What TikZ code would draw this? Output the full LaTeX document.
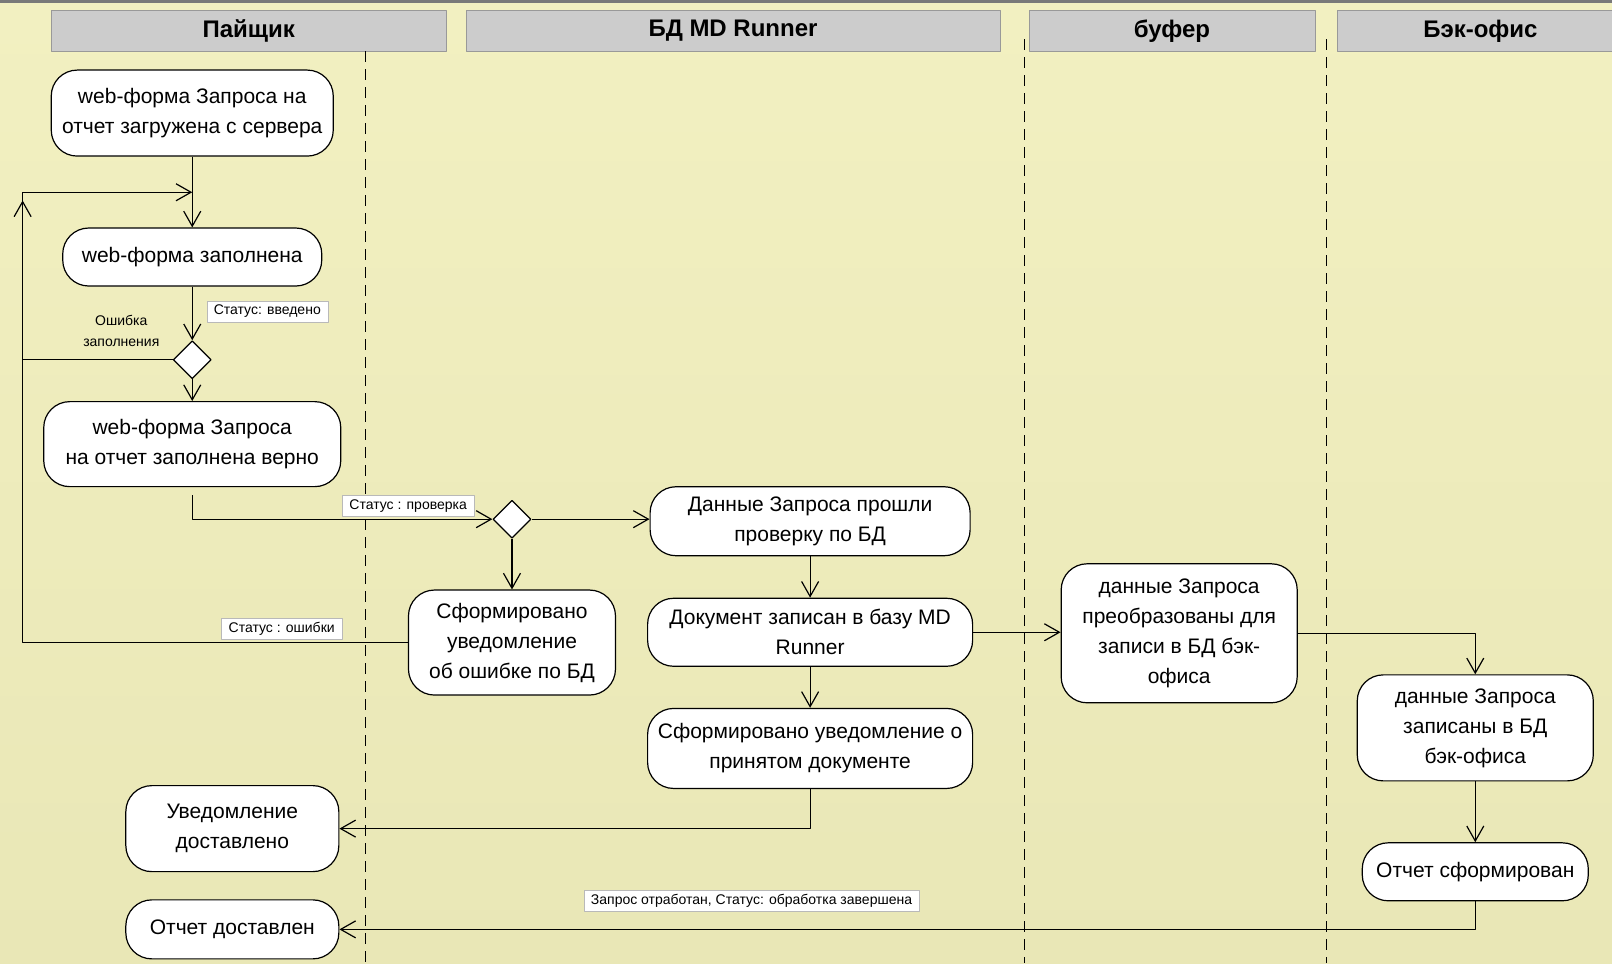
\documentclass[tikz,border=0pt]{standalone}
\usepackage{fontspec}
\setmainfont{Liberation Sans}
\usetikzlibrary{shapes.geometric,arrows.meta}
\definecolor{bgtop}{RGB}{242,240,193}
\definecolor{bgmid}{RGB}{253,252,205}
\definecolor{bgbot}{RGB}{233,231,182}
\definecolor{lanegray}{RGB}{204,204,204}
\begin{document}
\begin{tikzpicture}[x=1.028pt, y=-1.028pt, line join=round, >={Straight Barb[length=15pt,width=17pt]},
	act/.style={draw, fill=white, rounded corners=26pt, line width=1.2pt, align=center, inner sep=0pt, font=\fontsize{21}{30}\selectfont},
	dec/.style={draw, fill=white, diamond, minimum width=38pt, minimum height=38pt, inner sep=0pt, line width=1.2pt},
	stat/.style={draw=gray!55, fill=white, inner xsep=7pt, inner ysep=0pt, minimum height=21pt, font=\fontsize{14}{16}\selectfont},
	lane/.style={draw=gray!80, fill=lanegray, minimum height=41pt, font=\fontsize{24}{28}\selectfont\bfseries},
	flow/.style={->, line width=1.2pt}]
	\useasboundingbox (0,0) rectangle (1568,937);
	\shade[top color=bgtop, middle color=bgmid, bottom color=bgbot] (0,0) rectangle (1568,937);
	\fill[gray!95!black] (0,0) rectangle (1568,3);
	\foreach \x/\w/\t in {242/395/Пайщик, 713/534/БД MD Runner, 1140/286/буфер, 1440/287/Бэк-офис}{
		\node[lane, minimum width=\w pt] at (\x,30) {\t};}
	\foreach \x/\y in {356/50, 997/38, 1290/38}{
		\draw[line width=1pt, dash pattern=on 11pt off 7pt] (\x,\y) -- (\x,937);}
	\node[act, minimum width=282pt, minimum height=86pt] (frm) at (187,110) {web-форма Запроса на\\отчет загружена с сервера};
	\node[act, minimum width=259pt, minimum height=58pt] (filled) at (187,250) {web-форма заполнена};
	\node[dec] (chk) at (187,350) {};
	\node[act, minimum width=297pt, minimum height=85pt] (ok) at (187,432) {web-форма Запроса\\на отчет заполнена верно};
	\node[dec] (dbchk) at (498,505) {};
	\node[act, minimum width=320pt, minimum height=69pt] (pass) at (788,507) {Данные Запроса прошли\\проверку по БД};
	\node[act, minimum width=207pt, minimum height=105pt] (err) at (498,625) {Сформировано\\уведомление\\об ошибке по БД};
	\node[act, minimum width=325pt, minimum height=68pt] (doc) at (788,615) {Документ записан в базу MD\\Runner};
	\node[act, minimum width=325pt, minimum height=80pt] (note) at (788,728) {Сформировано уведомление о\\принятом документе};
	\node[act, minimum width=236pt, minimum height=139pt] (conv) at (1147,616) {данные Запроса\\преобразованы для\\записи в БД бэк-\\офиса};
	\node[act, minimum width=236pt, minimum height=106pt] (wr) at (1435,708) {данные Запроса\\записаны в БД\\бэк-офиса};
	\node[act, minimum width=226pt, minimum height=58pt] (rep) at (1435,848) {Отчет сформирован};
	\node[act, minimum width=213pt, minimum height=86pt] (dlv) at (226,806) {Уведомление\\доставлено};
	\node[act, minimum width=213pt, minimum height=59pt] (rdl) at (226,904) {Отчет доставлен};
	\path (187,187) coordinate (m) (22,187) coordinate (lp) (22,195) coordinate (lq);
	\draw[flow] (frm) -- (filled);
	\draw[line width=1.2pt] (m) -- ++(0,-1);
	\draw[flow] (chk.west) -| (lp) -- (m);
	\draw[flow] (err.west) -| (lq);
	\draw[flow] (filled) -- (chk);
	\draw[flow] (chk) -- (ok);
	\draw[flow] ([yshift=-8pt]ok.south) |- (dbchk.west);
	\draw[flow] (dbchk.east) -- (dbchk.east -| pass.west);
	\draw[flow] (dbchk) -- (err);
	\draw[flow] (pass) -- (doc);
	\draw[flow] (doc) -- (note);
	\draw[flow] (doc.east) -- (doc.east -| conv.west);
	\draw[flow] (note.south) |- (dlv.east);
	\draw[flow] (conv.east) -| (wr.north);
	\draw[flow] (wr) -- (rep);
	\draw[flow] (rep.south) |- (rdl.east);
	\node[stat] (s1) at (260,303) {Статус: введено};
	\node[stat] (s2) at (397,492) {Статус : проверка};
	\node[stat] (s3) at (274,612) {Статус : ошибки};
	\node[stat] (s4) at (731,876) {Запрос отработан, Статус: обработка завершена};
	\node[align=center, font=\fontsize{14}{20.5}\selectfont] (fe) at (118,322) {Ошибка\\заполнения};
\end{tikzpicture}
\end{document}
